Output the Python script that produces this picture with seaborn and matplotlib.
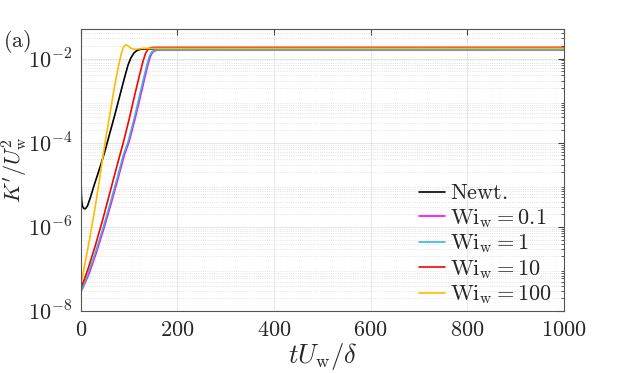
"""
Turbulent kinetic energy growth K'/U_w^2 versus time for several Weissenberg numbers.
"""

import matplotlib

matplotlib.use("Agg")
import matplotlib.pyplot as plt
import matplotlib.ticker as mticker
import numpy as np
import pandas as pd
import seaborn as sns

# values (time, log10 of K'/U_w^2)
newt_t = [0, 0.3, 0.7, 1.2, 2, 3.5, 6, 9.5, 14, 20, 28, 36, 44, 52, 60, 70,
          80, 90, 98, 104, 110, 116, 122, 130, 140, 1000]
newt_logk = [-3.55, -4.3, -4.9, -5.2, -5.38, -5.5, -5.56, -5.57, -5.5, -5.3,
             -5.0, -4.72, -4.43, -4.12, -3.78, -3.36, -2.92, -2.48, -2.15,
             -1.98, -1.87, -1.81, -1.785, -1.772, -1.77, -1.77]

wi01_t = [0, 5, 17, 32, 47, 62, 77, 90, 100, 112, 122, 132, 139, 144, 149,
          155, 163, 1000]
wi01_logk = [-7.55, -7.43, -7.12, -6.62, -6.07, -5.48, -4.86, -4.3, -3.98,
             -3.45, -2.97, -2.48, -2.15, -1.95, -1.845, -1.81, -1.797, -1.795]

wi1_t = [0, 5, 15, 30, 45, 60, 75, 88, 98, 110, 120, 130, 137, 142, 147,
         152, 160, 1000]
wi1_logk = [-7.52, -7.41, -7.12, -6.62, -6.07, -5.48, -4.86, -4.3, -3.98,
            -3.45, -2.97, -2.48, -2.15, -1.95, -1.84, -1.805, -1.792, -1.79]

wi10_t = [0, 5, 15, 30, 45, 60, 75, 88, 100, 110, 120, 128, 134, 139, 144,
          150, 160, 1000]
wi10_logk = [-7.45, -7.32, -7.0, -6.45, -5.85, -5.2, -4.55, -4.0, -3.45,
             -2.95, -2.47, -2.1, -1.88, -1.78, -1.745, -1.737, -1.735, -1.735]

wi100_t = [0, 10, 20, 30, 40, 50, 60, 70, 78, 84, 88, 91, 94, 97, 101, 106,
           112, 120, 130, 1000]
wi100_logk = [-7.38, -6.8, -6.18, -5.52, -4.78, -4.02, -3.35, -2.66, -2.18,
              -1.88, -1.74, -1.69, -1.675, -1.69, -1.73, -1.77, -1.78, -1.77,
              -1.757, -1.755]

labels = [r"$\mathrm{Newt.}$", r"$\mathrm{Wi_w} = 0.1$", r"$\mathrm{Wi_w} = 1$",
          r"$\mathrm{Wi_w} = 10$", r"$\mathrm{Wi_w} = 100$"]
colors = ["#000000", "#FF00FF", "#33BBCC", "#FF0000", "#FFBB00"]

series = [(newt_t, newt_logk), (wi01_t, wi01_logk), (wi1_t, wi1_logk),
          (wi10_t, wi10_logk), (wi100_t, wi100_logk)]

frames = []
for label, (t, logk) in zip(labels, series):
    frames.append(pd.DataFrame({"t": t, "K": 10.0 ** np.array(logk), "case": label}))
df = pd.concat(frames, ignore_index=True)

sns.set_style("white")
plt.rcParams["mathtext.fontset"] = "cm"
plt.rcParams["font.family"] = ["DejaVu Serif"]

fig = plt.figure(figsize=(6.23, 3.73), dpi=100)
ax = fig.add_axes([0.1296, 0.166, 0.7755, 0.756])

sns.lineplot(data=df, x="t", y="K", hue="case", hue_order=labels,
             palette=colors, estimator=None, sort=True, linewidth=1.2, ax=ax)

ax.set_yscale("log")
ax.set_xlim(0, 1000)
ax.set_ylim(1e-8, 10 ** -1.3)

ax.set_xticks([0, 200, 400, 600, 800, 1000])
ax.xaxis.set_major_formatter(mticker.FuncFormatter(lambda v, p: rf"${v:.0f}$"))
ax.yaxis.set_major_locator(mticker.FixedLocator([1e-8, 1e-6, 1e-4, 1e-2]))
ax.yaxis.set_major_formatter(mticker.FuncFormatter(
    lambda v, p: rf"$10^{{{int(round(np.log10(v)))}}}$"))
ax.yaxis.set_minor_locator(mticker.LogLocator(base=10, subs=np.arange(2, 10), numticks=30))
ax.yaxis.set_minor_formatter(mticker.NullFormatter())

ax.grid(True, which="major", color="#E3E3E3", linewidth=0.6)
ax.grid(True, which="minor", axis="y", color="#DADADA", linestyle=":", linewidth=0.6)

ax.tick_params(axis="both", which="both", direction="in", top=True, right=True,
               colors="#404040", labelcolor="#262626")
ax.tick_params(axis="both", which="major", length=4, labelsize=16, pad=6)
ax.tick_params(axis="y", which="minor", length=2)
for spine in ax.spines.values():
    spine.set_color("#555555")
    spine.set_linewidth(0.8)

ax.set_xlabel(r"$tU_\mathrm{w}/\delta$", fontsize=19, labelpad=0)
ax.set_ylabel(r"$K'/U_\mathrm{w}^2$", fontsize=16)
ax.yaxis.set_label_coords(-0.104, 0.5)

ax.legend(loc="lower right", bbox_to_anchor=(0.995, -0.015), frameon=False,
          fontsize=16, handlelength=1.15, handletextpad=0.25, labelspacing=0.12,
          borderaxespad=0.0)

fig.text(0.005, 0.89, r"$(\mathrm{a})$", fontsize=16, va="center")

fig.savefig("out.png", dpi=100)
